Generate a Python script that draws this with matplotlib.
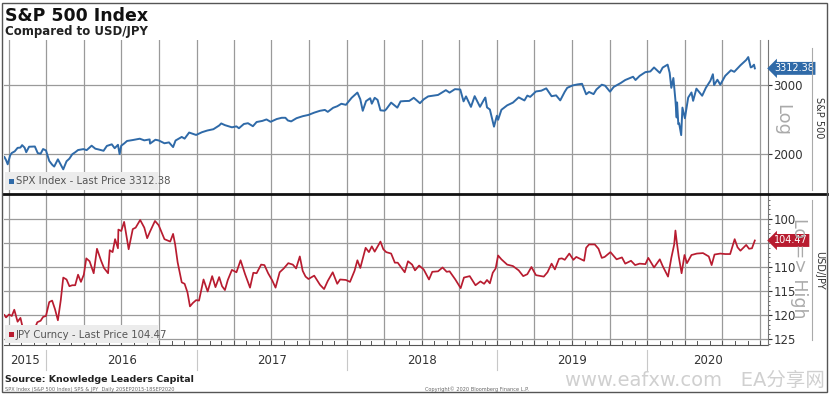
import matplotlib
matplotlib.use("Agg")
import matplotlib.pyplot as plt
import matplotlib.ticker as mticker
from matplotlib.transforms import blended_transform_factory
from matplotlib.patches import Rectangle
from matplotlib.lines import Line2D
import pandas as pd

plt.rcParams['font.family'] = ['DejaVu Sans', 'Noto Sans CJK SC']

# ---------------- data ----------------
spx_dates = ["2015-09-21","2015-09-25","2015-09-29","2015-10-05","2015-10-09","2015-10-16","2015-10-23","2015-10-30",
"2015-11-03","2015-11-09","2015-11-13","2015-11-20","2015-11-27","2015-12-04","2015-12-11","2015-12-18","2015-12-24",
"2015-12-31","2016-01-08","2016-01-15","2016-01-20","2016-01-29","2016-02-05","2016-02-11","2016-02-19","2016-02-26",
"2016-03-04","2016-03-11","2016-03-18","2016-03-31","2016-04-08","2016-04-20","2016-04-29","2016-05-06","2016-05-19",
"2016-05-27","2016-06-08","2016-06-15","2016-06-23","2016-06-27","2016-07-01","2016-07-08","2016-07-15","2016-07-29",
"2016-08-15","2016-08-26","2016-09-08","2016-09-09","2016-09-22","2016-09-30","2016-10-14","2016-10-25","2016-11-04",
"2016-11-10","2016-11-25","2016-12-02","2016-12-13","2016-12-30","2017-01-13","2017-01-26","2017-02-10","2017-02-24",
"2017-03-01","2017-03-10","2017-03-27","2017-04-07","2017-04-13","2017-04-25","2017-05-05","2017-05-17","2017-05-26",
"2017-06-09","2017-06-19","2017-06-29","2017-07-14","2017-07-26","2017-08-04","2017-08-10","2017-08-18","2017-08-31",
"2017-09-15","2017-09-29","2017-10-13","2017-10-27","2017-11-08","2017-11-15","2017-11-28","2017-12-08","2017-12-18",
"2017-12-29","2018-01-12","2018-01-26","2018-02-02","2018-02-08","2018-02-16","2018-02-26","2018-03-02","2018-03-09",
"2018-03-16","2018-03-23","2018-04-02","2018-04-06","2018-04-18","2018-05-03","2018-05-11","2018-05-21","2018-06-01",
"2018-06-12","2018-06-27","2018-07-06","2018-07-17","2018-07-27","2018-08-10","2018-08-29","2018-09-07","2018-09-20",
"2018-10-03","2018-10-11","2018-10-17","2018-10-29","2018-11-07","2018-11-20","2018-11-30","2018-12-03","2018-12-07",
"2018-12-14","2018-12-24","2018-12-31","2019-01-03","2019-01-11","2019-01-25","2019-02-08","2019-02-22","2019-03-08",
"2019-03-15","2019-03-22","2019-04-05","2019-04-18","2019-04-30","2019-05-13","2019-05-24","2019-06-03","2019-06-14",
"2019-06-20","2019-07-03","2019-07-15","2019-07-26","2019-08-05","2019-08-12","2019-08-23","2019-08-30","2019-09-12",
"2019-09-20","2019-10-02","2019-10-11","2019-10-28","2019-11-08","2019-11-27","2019-12-03","2019-12-13","2019-12-27",
"2020-01-08","2020-01-17","2020-01-31","2020-02-07","2020-02-19","2020-02-24","2020-02-28","2020-03-04","2020-03-09",
"2020-03-12","2020-03-13","2020-03-16","2020-03-18","2020-03-23","2020-03-26","2020-04-01","2020-04-09","2020-04-17",
"2020-04-21","2020-04-29","2020-05-13","2020-05-22","2020-06-02","2020-06-08","2020-06-11","2020-06-19","2020-06-26",
"2020-07-08","2020-07-22","2020-07-30","2020-08-14","2020-08-28","2020-09-02","2020-09-08","2020-09-11","2020-09-16",
"2020-09-18"]
spx_values = [1966,1931,1884,1987,2014,2033,2075,2079,
2109,2078,2023,2089,2090,2092,2012,2005,2061,
2044,1922,1880,1859,1940,1880,1829,1918,1948,
1999,2022,2049,2060,2048,2102,2065,2057,2040,
2099,2119,2071,2113,2000,2102,2129,2161,2173,
2190,2169,2181,2128,2177,2168,2132,2143,2085,
2167,2213,2191,2271,2239,2275,2298,2316,2367,
2396,2372,2342,2355,2329,2388,2399,2357,2416,
2432,2453,2419,2459,2477,2477,2438,2425,2471,
2500,2519,2553,2581,2594,2565,2627,2651,2690,
2673,2786,2873,2762,2581,2732,2779,2691,2786,
2752,2588,2582,2604,2708,2629,2728,2733,2735,
2786,2699,2760,2809,2819,2833,2914,2872,2931,
2925,2728,2809,2641,2813,2642,2760,2790,2633,
2600,2351,2507,2448,2596,2665,2708,2793,2743,
2822,2801,2892,2905,2945,2812,2826,2744,2887,
2954,2996,3014,3025,2844,2883,2847,2926,3009,
2992,2888,2970,3039,3093,3153,3093,3169,3240,
3253,3330,3225,3328,3386,3226,2954,3130,2746,
2481,2711,2386,2398,2237,2630,2470,2790,2875,
2737,2940,2820,2955,3080,3200,3002,3098,3009,
3170,3276,3246,3373,3480,3540,3331,3341,3385,
3312.38]

jpy_dates = ["2015-09-21","2015-09-25","2015-10-02","2015-10-09","2015-10-15","2015-10-23","2015-10-30","2015-11-06",
"2015-11-13","2015-11-20","2015-11-27","2015-12-02","2015-12-10","2015-12-18","2015-12-24","2015-12-31","2016-01-08",
"2016-01-15","2016-01-22","2016-01-29","2016-02-05","2016-02-11","2016-02-19","2016-02-26","2016-03-04","2016-03-11",
"2016-03-18","2016-03-25","2016-04-01","2016-04-07","2016-04-15","2016-04-25","2016-05-03","2016-05-13","2016-05-20",
"2016-05-30","2016-06-03","2016-06-10","2016-06-16","2016-06-23","2016-06-24","2016-07-01","2016-07-08","2016-07-19",
"2016-07-29","2016-08-05","2016-08-16","2016-08-26","2016-09-02","2016-09-09","2016-09-21","2016-09-30","2016-10-14",
"2016-10-28","2016-11-04","2016-11-09","2016-11-15","2016-11-25","2016-12-02","2016-12-09","2016-12-15","2016-12-22",
"2016-12-30","2017-01-06","2017-01-17","2017-01-27","2017-02-07","2017-02-15","2017-02-24","2017-03-03","2017-03-10",
"2017-03-17","2017-03-27","2017-04-07","2017-04-17","2017-04-28","2017-05-10","2017-05-18","2017-05-26","2017-06-06",
"2017-06-14","2017-06-23","2017-07-03","2017-07-11","2017-07-21","2017-07-31","2017-08-11","2017-08-22","2017-08-30",
"2017-09-08","2017-09-15","2017-09-22","2017-09-29","2017-10-13","2017-10-27","2017-11-06","2017-11-15","2017-11-27",
"2017-12-08","2017-12-15","2017-12-29","2018-01-08","2018-01-19","2018-01-26","2018-02-02","2018-02-15","2018-02-23",
"2018-03-02","2018-03-09","2018-03-23","2018-03-30","2018-04-06","2018-04-18","2018-04-27","2018-05-04","2018-05-21",
"2018-05-29","2018-06-08","2018-06-15","2018-06-25","2018-07-06","2018-07-19","2018-07-27","2018-08-10","2018-08-21",
"2018-08-31","2018-09-07","2018-09-21","2018-10-04","2018-10-12","2018-10-26","2018-11-09","2018-11-21","2018-11-30",
"2018-12-07","2018-12-14","2018-12-21","2018-12-28","2019-01-03","2019-01-11","2019-01-25","2019-02-08","2019-02-22",
"2019-03-05","2019-03-15","2019-03-25","2019-04-05","2019-04-24","2019-05-03","2019-05-13","2019-05-21","2019-05-31",
"2019-06-07","2019-06-14","2019-06-25","2019-07-05","2019-07-12","2019-07-31","2019-08-05","2019-08-12","2019-08-26",
"2019-09-04","2019-09-12","2019-09-19","2019-10-03","2019-10-18","2019-10-31","2019-11-08","2019-11-22","2019-12-02",
"2019-12-13","2019-12-27","2020-01-03","2020-01-17","2020-01-31","2020-02-07","2020-02-20","2020-02-28","2020-03-06",
"2020-03-09","2020-03-12","2020-03-17","2020-03-24","2020-03-31","2020-04-06","2020-04-17","2020-04-30","2020-05-15",
"2020-05-29","2020-06-05","2020-06-12","2020-06-26","2020-07-08","2020-07-20","2020-07-31","2020-08-07","2020-08-14",
"2020-08-28","2020-09-04","2020-09-11","2020-09-18"]
jpy_values = [120.0,120.5,119.9,120.2,118.9,121.4,120.6,123.2,
122.6,122.8,122.8,123.2,121.5,121.2,120.4,120.2,117.3,
117.0,118.8,121.1,116.9,112.2,112.6,114.0,113.8,113.8,
111.6,113.1,111.6,108.2,108.8,111.3,106.2,108.7,110.2,
111.3,106.5,106.9,104.2,106.1,102.2,102.5,100.6,106.3,
102.1,101.8,100.2,101.8,104.0,102.6,100.4,101.3,104.2,
104.7,103.1,105.3,109.0,113.2,113.5,115.3,118.2,117.5,
116.9,117.0,112.6,115.1,111.9,114.2,112.1,114.0,114.8,
112.7,110.6,111.1,108.6,111.5,114.3,111.2,111.3,109.5,
109.6,111.3,112.8,114.3,111.1,110.3,109.2,109.5,110.3,
107.8,110.8,112.0,112.5,111.8,113.7,114.6,112.9,111.1,
113.5,112.6,112.7,113.1,110.8,108.6,110.2,106.0,106.9,
105.7,106.8,104.7,106.3,106.9,107.2,109.1,109.1,111.1,
108.8,109.5,110.7,109.7,110.5,112.6,111.0,110.9,110.1,
111.0,110.9,112.6,114.4,112.2,111.9,113.8,113.0,113.5,
112.7,113.4,111.2,110.3,107.6,108.4,109.5,109.8,110.7,
111.9,111.5,110.0,111.7,112.0,111.1,109.3,110.5,108.3,
108.2,108.5,107.2,108.5,107.9,108.7,106.0,105.3,105.3,
106.2,108.1,107.9,106.9,108.4,108.0,109.3,108.7,109.6,
109.3,109.4,108.1,110.1,108.4,109.8,112.0,108.1,105.3,
102.4,104.6,107.8,111.3,107.5,109.2,107.5,107.2,107.1,
107.8,109.6,107.4,107.2,107.3,107.3,104.2,105.9,106.6,
105.4,106.2,106.1,104.47]

spx_last = "3312.38"
jpy_last = "104.47"
years = ["2015", "2016", "2017", "2018", "2019", "2020"]
spx_ticks = [2000, 3000]
jpy_ticks = [100, 110, 115, 120, 125]

# ---------------- layout ----------------
W, H = 831, 394
fig = plt.figure(figsize=(W / 100, H / 100), dpi=100)
fig.patch.set_facecolor("white")

def fx(px):
    return px / W

def fy(py):
    return 1 - py / H

L, R = 4, 768
ax1 = fig.add_axes([fx(L), fy(194), (R - L) / W, (194 - 40) / H])
ax2 = fig.add_axes([fx(L), fy(345), (R - L) / W, (345 - 194) / H], sharex=ax1)

sd = pd.to_datetime(spx_dates)
jd = pd.to_datetime(jpy_dates)

blue = "#2f6aa8"
red = "#b81c30"
grid_c = "#9a9a9a"

ax1.plot(sd, spx_values, color=blue, lw=1.4, zorder=3)
ax2.plot(jd, jpy_values, color=red, lw=1.25, zorder=3)

xmin = pd.Timestamp("2015-09-20")
xmax = pd.Timestamp("2020-10-20")
ax1.set_xlim(xmin, xmax)

ax1.set_yscale("log")
ax1.set_ylim(1582, 3914)
ax2.set_ylim(126.25, 94.79)

quarters = pd.date_range("2015-10-01", "2020-10-01", freq="QS")
for ax in (ax1, ax2):
    for q in quarters:
        ax.axvline(q, color=grid_c, lw=0.9, zorder=1)
    for s in ["top", "left", "bottom"]:
        ax.spines[s].set_visible(False)
    ax.spines["right"].set_color("#777777")
    ax.spines["right"].set_linewidth(0.8)
    ax.yaxis.tick_right()
    ax.tick_params(axis="y", which="major", direction="out", length=3, width=0.8,
                   colors="#333333", labelsize=8.5, pad=1, labelcolor="#333333")
    ax.tick_params(axis="x", which="both", bottom=False, labelbottom=False)

for v in spx_ticks:
    ax1.axhline(v, color=grid_c, lw=0.9, zorder=1)
ax1.yaxis.set_major_locator(mticker.FixedLocator(spx_ticks))
ax1.yaxis.set_minor_locator(mticker.NullLocator())
ax1.yaxis.set_major_formatter(mticker.FuncFormatter(lambda v, p: f"{v:.0f}"))

for v in [100, 105, 110, 115, 120, 125]:
    ax2.axhline(v, color=grid_c, lw=0.9, zorder=1)
ax2.yaxis.set_major_locator(mticker.FixedLocator(jpy_ticks))
ax2.yaxis.set_minor_locator(mticker.MultipleLocator(1))
ax2.tick_params(axis="y", which="minor", direction="out", length=1.5, width=0.6, colors="#555555")

# monthly tick marks at the bottom of lower panel
months = pd.date_range("2015-10-01", "2020-10-01", freq="MS")
tb = blended_transform_factory(ax2.transData, ax2.transAxes)
for m in months:
    ax2.plot([m, m], [0.0, 0.025], color="#555555", lw=0.7, transform=tb, clip_on=False, zorder=4)
ax2.plot([0, 1], [0.0, 0.0], color="#555555", lw=0.8, transform=ax2.transAxes, clip_on=False)

# right-side axis labels (drawn first so tags sit on top)
fig.text(fx(782), fy(120), "Log", rotation=-90, fontsize=13, color="#aaaaaa", ha="center", va="center", zorder=1)
fig.text(fx(799), fy(268), "Lo => High", rotation=-90, fontsize=12.5, color="#aaaaaa", ha="center",
         va="center", zorder=1)
fig.lines.append(Line2D([fx(812), fx(812)], [fy(48), fy(190)], transform=fig.transFigure, color="#aaaaaa", lw=0.8))
fig.lines.append(Line2D([fx(812), fx(812)], [fy(200), fy(340)], transform=fig.transFigure, color="#aaaaaa", lw=0.8))
fig.text(fx(819), fy(118), "S&P 500", rotation=-90, fontsize=7, color="#333333", ha="center", va="center")
fig.text(fx(819), fy(270), "USD/JPY", rotation=-90, fontsize=7, color="#333333", ha="center", va="center")

# last-value tags
t1 = blended_transform_factory(ax1.transAxes, ax1.transData)
ax1.text(1.008, float(spx_last), spx_last, transform=t1, ha="left", va="center", fontsize=7,
         color="white", bbox=dict(boxstyle="larrow,pad=0.15", fc=blue, ec="none"), zorder=6)
t2 = blended_transform_factory(ax2.transAxes, ax2.transData)
ax2.text(1.008, float(jpy_last), jpy_last, transform=t2, ha="left", va="center", fontsize=7,
         color="white", bbox=dict(boxstyle="larrow,pad=0.15", fc=red, ec="none"), zorder=6)

# legend-like labels
for (y0, col, txt) in [(172, blue, "SPX Index - Last Price " + spx_last),
                       (325, red, "JPY Curncy - Last Price " + jpy_last)]:
    fig.patches.append(Rectangle((fx(5), fy(y0 + 18)), 153 / W, 18 / H, transform=fig.transFigure,
                                 fc="#ececec", ec="none", zorder=5))
    fig.patches.append(Rectangle((fx(9), fy(y0 + 12)), 5 / W, 5 / H, transform=fig.transFigure,
                                 fc=col, ec="none", zorder=6))
    fig.text(fx(16), fy(y0 + 9.5), txt, fontsize=7.3, color="#555555", ha="left", va="center", zorder=7)

# separator line between panels
fig.lines.append(Line2D([fx(3), fx(827)], [fy(194), fy(194)], transform=fig.transFigure, color="#111111", lw=2))

# year labels
ty = blended_transform_factory(ax2.transData, fig.transFigure)
bounds = [xmin] + [pd.Timestamp(f"{y}-01-01") for y in range(2016, 2021)] + [xmax]
for i, yl in enumerate(years):
    a, b = bounds[i], bounds[i + 1]
    mid = a + (b - a) / 2
    ax2.text(mid, fy(361), yl, transform=ty, ha="center", va="center", fontsize=8.5, color="#333333")
for y in range(2016, 2021):
    ax2.plot([pd.Timestamp(f"{y}-01-01")] * 2, [fy(350), fy(370)], transform=ty, color="#c8c8c8",
             lw=0.8, clip_on=False)

# titles & footer
fig.text(fx(5), fy(16), "S&P 500 Index", fontsize=12.5, fontweight="bold", color="#111111", ha="left", va="center")
fig.text(fx(5), fy(32), "Compared to USD/JPY", fontsize=8.5, fontweight="bold", color="#222222", ha="left", va="center")
fig.text(fx(5), fy(380), "Source: Knowledge Leaders Capital", fontsize=6.8, fontweight="bold", color="#222222",
         ha="left", va="center")
fig.text(fx(5), fy(389), "SPX Index (S&P 500 Index) SPS & JPY  Daily 20SEP2015-18SEP2020", fontsize=3.6,
         color="#666666", ha="left", va="center")
fig.text(fx(425), fy(389), "Copyright\u00a9 2020 Bloomberg Finance L.P.", fontsize=3.6, color="#666666",
         ha="left", va="center")
fig.text(fx(565), fy(381), "www.eafxw.com   EA分享网", fontsize=14, color="#d0d0d0", ha="left", va="center",
         family=["DejaVu Sans", "Noto Sans CJK SC"], zorder=0)

# outer frame
fig.patches.append(Rectangle((fx(2), fy(392)), 825 / W, 389 / H, transform=fig.transFigure,
                             fc="none", ec="#555555", lw=1.0, zorder=10))

fig.savefig("out.png", dpi=100)
